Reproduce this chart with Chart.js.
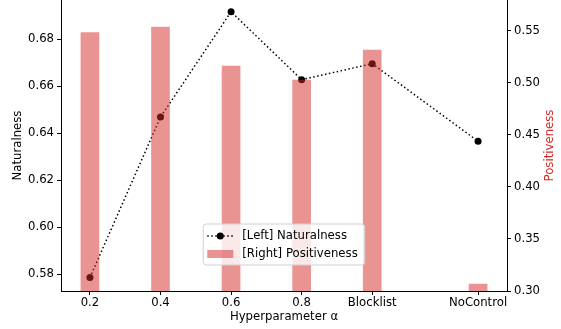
<!DOCTYPE html>
<html>
<head>
<meta charset="utf-8">
<script src="https://cdn.jsdelivr.net/npm/chart.js@4"></script>
<style>
  html, body { margin: 0; padding: 0; background: #fff; }
</style>
</head>
<body>
<canvas id="chart" width="561" height="329"></canvas>
<script>
// data
const categories = ['0.2', '0.4', '0.6', '0.8', 'Blocklist', 'NoControl'];
const xPositions = [0, 1, 2, 3, 4, 5.5]; // NoControl sits a bit further right
const naturalness = [0.5786, 0.6469, 0.6917, 0.6628, 0.6696, 0.6366];
const positiveness = [0.5481, 0.5536, 0.5161, 0.5027, 0.5315, 0.3067];
const leftTicks = [0.58, 0.60, 0.62, 0.64, 0.66, 0.68];
const rightTicks = [0.30, 0.35, 0.40, 0.45, 0.50, 0.55];

const barColor = 'rgba(214, 39, 40, 0.5)';
const titleRed = '#d62728';
const FONT = 11.7;
const fontStr = FONT + "px 'DejaVu Sans', sans-serif";

Chart.defaults.font.family = "'DejaVu Sans', sans-serif";
Chart.defaults.font.size = FONT;
Chart.defaults.color = '#000';

// matplotlib style legend inside the plot (lower centre) + right axis title read bottom-up
const extras = {
    id: 'extras',
    afterDraw(chart) {
        const ctx = chart.ctx;
        const area = chart.chartArea;
        const sets = chart.data.datasets;
        ctx.save();
        ctx.font = fontStr;

        // right axis title, rotated like the left one
        ctx.save();
        ctx.translate(chart.width - 11.5, (area.top + area.bottom) / 2);
        ctx.rotate(-Math.PI / 2);
        ctx.fillStyle = titleRed;
        ctx.textAlign = 'center';
        ctx.textBaseline = 'middle';
        ctx.fillText('Positiveness', 0, 0);
        ctx.restore();

        const textW = Math.max(...sets.map(d => ctx.measureText(d.label).width));
        const w = 39 + textW + 7;
        const h = 41;
        const left = (area.left + area.right) / 2 - w / 2;
        const top = area.bottom - 26 - h;

        ctx.beginPath();
        ctx.roundRect(left, top, w, h, 3);
        ctx.fillStyle = 'rgba(255,255,255,0.8)';
        ctx.fill();
        ctx.strokeStyle = '#d0d0d0';
        ctx.lineWidth = 1;
        ctx.stroke();

        sets.forEach((d, i) => {
            const cy = top + 12 + i * 18;
            if (d.type === 'line') {
                ctx.beginPath();
                ctx.setLineDash(d.borderDash);
                ctx.strokeStyle = d.borderColor;
                ctx.lineWidth = d.borderWidth;
                ctx.moveTo(left + 4, cy);
                ctx.lineTo(left + 30, cy);
                ctx.stroke();
                ctx.setLineDash([]);
                ctx.beginPath();
                ctx.arc(left + 17, cy, d.pointRadius, 0, Math.PI * 2);
                ctx.fillStyle = d.pointBackgroundColor;
                ctx.fill();
            } else {
                ctx.fillStyle = d.backgroundColor;
                ctx.fillRect(left + 4, cy - 4, 26, 8);
            }
            ctx.fillStyle = '#000';
            ctx.textBaseline = 'middle';
            ctx.fillText(d.label, left + 39, cy);
        });
        ctx.restore();
    }
};

const axisGrid = { drawOnChartArea: false, drawTicks: true, tickLength: 4, color: '#000', offset: false };
const axisBorder = { display: true, color: '#000', width: 1 };

function noPad(s) {
    s.paddingTop = 0;
    s.paddingBottom = 0;
    s.paddingLeft = 0;
    s.paddingRight = 0;
}

new Chart(document.getElementById('chart'), {
    type: 'bar',
    data: {
        datasets: [{
            type: 'line',
            label: '[Left] Naturalness',
            data: xPositions.map((x, i) => ({ x: x, y: naturalness[i] })),
            yAxisID: 'y',
            borderColor: '#000',
            borderWidth: 1.5,
            borderDash: [1.5, 2.5],
            pointRadius: 3.5,
            pointBackgroundColor: '#000',
            pointBorderWidth: 0,
            tension: 0,
            order: 1
        }, {
            type: 'bar',
            label: '[Right] Positiveness',
            data: xPositions.map((x, i) => ({ x: x, y: positiveness[i] })),
            yAxisID: 'y1',
            backgroundColor: barColor,
            barThickness: 18,
            order: 0
        }]
    },
    options: {
        responsive: false,
        animation: false,
        layout: { padding: 0, autoPadding: false },
        plugins: {
            legend: { display: false },
            tooltip: { enabled: false }
        },
        scales: {
            x: {
                type: 'linear',
                min: -0.41,
                max: 5.91,
                offset: false,
                grid: axisGrid,
                border: axisBorder,
                afterBuildTicks: s => { s.ticks = xPositions.map(v => ({ value: v })); },
                afterFit: s => { s.height = 38; noPad(s); },
                ticks: {
                    autoSkip: false,
                    maxRotation: 0,
                    padding: 1,
                    callback: v => categories[xPositions.indexOf(v)]
                },
                title: {
                    display: true,
                    text: 'Hyperparameter α',
                    padding: { top: 0, bottom: 5.5 }
                }
            },
            y: {
                position: 'left',
                min: 0.5729,
                max: 0.6967,
                grid: axisGrid,
                border: axisBorder,
                afterBuildTicks: s => { s.ticks = leftTicks.map(v => ({ value: v })); },
                afterFit: s => { s.width = 61; noPad(s); },
                ticks: { padding: 3, callback: v => v.toFixed(2) },
                title: {
                    display: true,
                    text: 'Naturalness',
                    padding: { top: 11, bottom: 0 }
                }
            },
            y1: {
                position: 'right',
                min: 0.30,
                max: 0.5795,
                grid: axisGrid,
                border: axisBorder,
                afterBuildTicks: s => { s.ticks = rightTicks.map(v => ({ value: v })); },
                afterFit: s => { s.width = 54; noPad(s); },
                ticks: { padding: 3, callback: v => v.toFixed(2) }
            }
        }
    },
    plugins: [extras]
});
</script>
</body>
</html>
